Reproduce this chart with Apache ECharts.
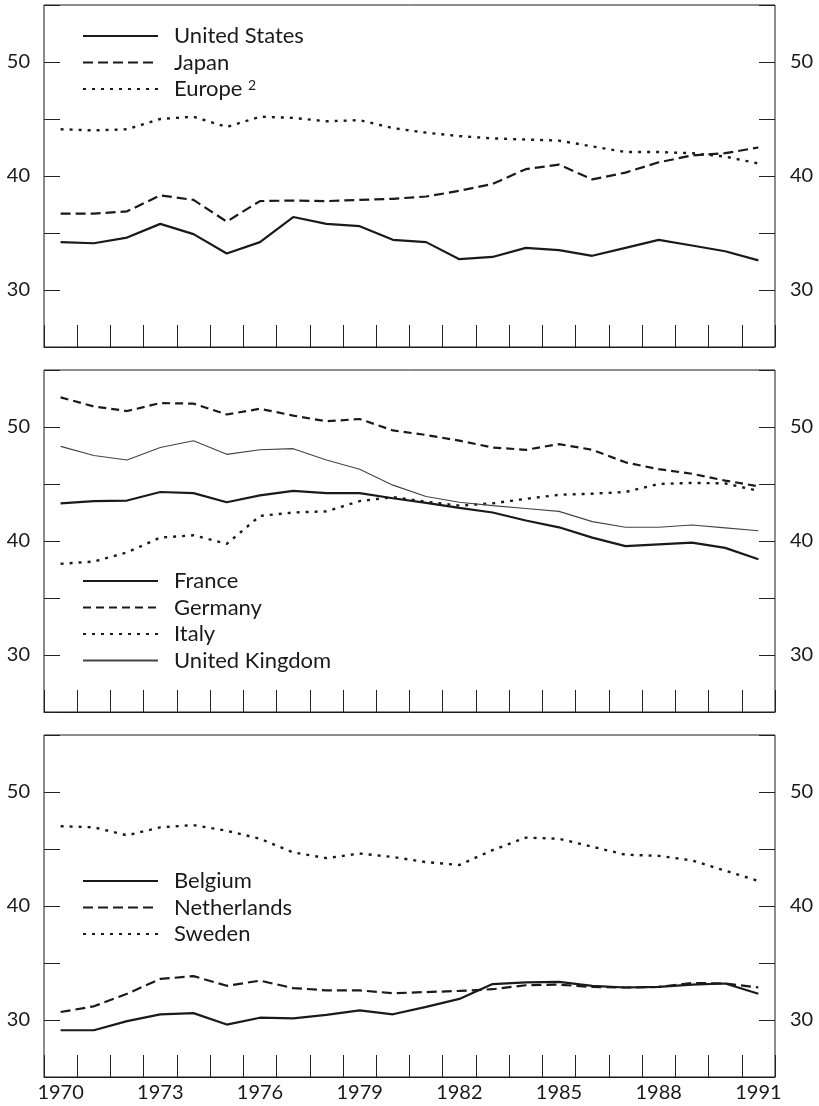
<!DOCTYPE html>
<html>
<head>
<meta charset="utf-8">
<script src="https://cdn.jsdelivr.net/npm/echarts/dist/echarts.min.js"></script>
<style>
html,body{margin:0;padding:0;background:#fff;}
#chart{width:819px;height:1106px;}
</style>
</head>
<body>
<div id="chart"></div>
<script>
// ---- Data ----
const years = ['1970','1971','1972','1973','1974','1975','1976','1977','1978','1979','1980',
               '1981','1982','1983','1984','1985','1986','1987','1988','1989','1990','1991'];
const yTickLabels = [30, 40, 50];

// Panel 1
const unitedStates = [34.2,34.1,34.6,35.8,34.9,33.2,34.2,36.4,35.8,35.6,34.4,34.2,32.7,32.9,33.7,33.5,33.0,33.7,34.4,33.9,33.4,32.6];
const japan        = [36.7,36.7,36.9,38.3,37.9,36.0,37.8,37.85,37.8,37.9,38.0,38.2,38.7,39.3,40.6,41.0,39.7,40.3,41.2,41.8,42.0,42.5];
const europe       = [44.1,44.0,44.1,45.0,45.2,44.3,45.2,45.1,44.8,44.9,44.2,43.8,43.5,43.3,43.2,43.1,42.6,42.1,42.1,42.0,41.7,41.1];

// Panel 2
const france  = [43.3,43.5,43.55,44.3,44.2,43.4,44.0,44.4,44.2,44.2,43.75,43.35,42.9,42.5,41.8,41.2,40.3,39.55,39.7,39.85,39.4,38.4];
const germany = [52.6,51.8,51.4,52.1,52.05,51.1,51.6,51.0,50.5,50.7,49.7,49.3,48.8,48.2,48.0,48.5,48.0,46.9,46.3,45.9,45.3,44.8];
const italy   = [38.0,38.2,39.0,40.3,40.5,39.75,42.2,42.5,42.6,43.5,43.85,43.45,43.1,43.3,43.7,44.05,44.15,44.3,45.0,45.1,45.05,44.4];
const unitedKingdom = [48.3,47.5,47.1,48.2,48.8,47.6,48.0,48.1,47.1,46.3,44.9,43.9,43.4,43.1,42.85,42.6,41.7,41.2,41.2,41.4,41.15,40.9];

// Panel 3
const belgium     = [29.1,29.1,29.9,30.5,30.6,29.6,30.2,30.15,30.45,30.85,30.5,31.15,31.85,33.15,33.3,33.35,33.0,32.85,32.9,33.1,33.2,32.3];
const netherlands = [30.7,31.2,32.3,33.6,33.85,33.0,33.45,32.8,32.6,32.6,32.35,32.45,32.55,32.7,33.05,33.1,32.9,32.85,32.9,33.25,33.2,32.85];
const sweden      = [47.0,46.9,46.2,46.9,47.1,46.6,45.9,44.7,44.2,44.6,44.3,43.85,43.6,44.9,46.0,45.9,45.2,44.5,44.4,44.0,43.1,42.2];

// ---- Styles ----
const FONT = 'Lato, "Open Sans", sans-serif';
const INK = '#1a1a1a';
const solid  = {color: INK, width: 2.2, type: 'solid'};
const dashed = {color: INK, width: 2.2, type: [10, 5]};
const dashedShort = {color: INK, width: 2.2, type: [8, 5]};
const dotted = {color: INK, width: 2.4, type: [3, 6]};
const thin   = {color: '#444', width: 1.1, type: 'solid'};

const gridTops = [5, 370, 735];
const gridHeight = 342;

const grids = gridTops.map(t => ({
  left: 44, top: t, width: 731, height: gridHeight,
  show: true, borderColor: INK, borderWidth: 1, backgroundColor: 'transparent',
  containLabel: false, outerBoundsMode: 'none'
}));

const xAxes = gridTops.map((t, g) => ({
  type: 'category', gridIndex: g, data: years, boundaryGap: true,
  axisLine: {show: true, lineStyle: {color: INK, width: 1}},
  axisTick: {show: true, inside: true, length: 22, interval: 0, alignWithLabel: false,
             lineStyle: {color: '#222', width: 1}},
  axisLabel: {show: g === 2, interval: 2, fontSize: 20, color: '#1a1a1a',
              fontFamily: FONT, margin: 6},
  splitLine: {show: false}
}));

function yAxis(g, pos) {
  return {
    type: 'value', gridIndex: g, position: pos, min: 25, max: 55, interval: 5,
    axisLine: {show: false},
    splitLine: {show: false},
    axisTick: {show: true, inside: true, length: 16, lineStyle: {color: '#222', width: 1}},
    axisLabel: {
      fontSize: 20, color: '#1a1a1a', fontFamily: FONT,
      margin: pos === 'left' ? 14 : 15,
      formatter: v => yTickLabels.indexOf(v) >= 0 ? String(v) : ''
    }
  };
}
const yAxes = [];
gridTops.forEach((t, g) => { yAxes.push(yAxis(g, 'left')); yAxes.push(yAxis(g, 'right')); });

function line(name, data, g, style, z) {
  return {
    type: 'line', name: name, data: data, xAxisIndex: g, yAxisIndex: g * 2,
    symbol: 'none', showSymbol: false, smooth: false, z: z || 2,
    color: style.color,
    lineStyle: style, silent: true, animation: false
  };
}

const series = [
  line('United States', unitedStates, 0, solid, 3),
  line('Japan', japan, 0, dashed),
  line('Europe', europe, 0, dotted),
  line('France', france, 1, solid, 3),
  line('Germany', germany, 1, dashedShort),
  line('Italy', italy, 1, dotted),
  line('United Kingdom', unitedKingdom, 1, thin),
  line('Belgium', belgium, 2, solid, 3),
  line('Netherlands', netherlands, 2, dashed),
  line('Sweden', sweden, 2, dotted)
];

function legend(names, top) {
  return {
    data: names, left: 82, top: top, orient: 'vertical', padding: 0,
    itemWidth: 75, itemHeight: 14, itemGap: 4.5,
    selectedMode: false,
    itemStyle: {opacity: 0},
    textStyle: {
      fontSize: 22, lineHeight: 22, color: '#1a1a1a', fontFamily: FONT,
      padding: [0, 0, 0, 11],
      rich: {
        sup: {fontSize: 14, lineHeight: 22, verticalAlign: 'top', fontFamily: FONT,
              color: '#1a1a1a'}
      }
    },
    formatter: n => n === 'Europe' ? 'Europe {sup|2}' : n
  };
}

const chart = echarts.init(document.getElementById('chart'), null, {renderer: 'canvas'});
chart.setOption({
  animation: false,
  backgroundColor: '#fff',
  grid: grids,
  xAxis: xAxes,
  yAxis: yAxes,
  legend: [
    legend(['United States', 'Japan', 'Europe'], 25),
    legend(['France', 'Germany', 'Italy', 'United Kingdom'], 570),
    legend(['Belgium', 'Netherlands', 'Sweden'], 870)
  ],
  series: series
});
</script>
</body>
</html>
